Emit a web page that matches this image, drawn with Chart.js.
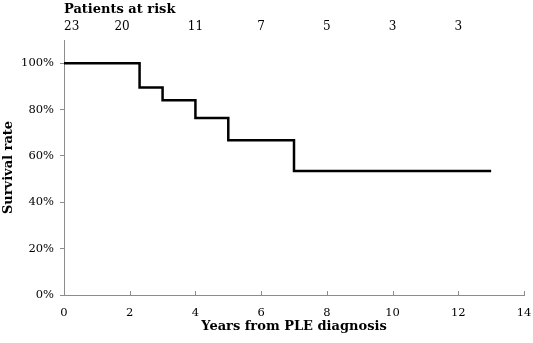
<!DOCTYPE html>
<html>
<head>
<meta charset="utf-8">
<script src="https://cdn.jsdelivr.net/npm/chart.js@4.4.1/dist/chart.umd.min.js"></script>
<style>
html,body{margin:0;padding:0;background:#fff;}
#wrap{position:relative;width:533px;height:343px;}
</style>
</head>
<body>
<div id="wrap"><canvas id="c" width="533" height="343"></canvas></div>
<script>
// Kaplan-Meier step points (years, survival fraction)
const years = [0, 2.3, 3.0, 4.0, 5.0, 7.0, 13.0];
const survival = [1.0, 0.895, 0.84, 0.764, 0.668, 0.535, 0.535];
// Patients at risk
const riskYears = [0, 2, 4, 6, 8, 10, 12];
const riskCounts = [23, 20, 11, 7, 5, 3, 3];
// Axis ticks
const xTicks = [0, 2, 4, 6, 8, 10, 12, 14];
const yTicks = [0, 0.2, 0.4, 0.6, 0.8, 1.0];

const SERIF = '"DejaVu Serif", "Liberation Serif", serif';
const AXIS = '#8c8c8c';

const extras = {
  id: 'extras',
  beforeDatasetsDraw(chart) {
    const ctx = chart.ctx, x = chart.scales.x, a = chart.chartArea;
    ctx.save();
    ctx.strokeStyle = AXIS;
    ctx.lineWidth = 1;
    xTicks.forEach(v => {
      const px = Math.round(x.getPixelForValue(v)) + 0.5;
      ctx.beginPath();
      ctx.moveTo(px, a.bottom);
      ctx.lineTo(px, a.bottom - 4);
      ctx.stroke();
    });
    ctx.restore();
  },
  afterDraw(chart) {
    const ctx = chart.ctx, x = chart.scales.x, a = chart.chartArea;
    ctx.save();
    ctx.fillStyle = '#000';
    // x title
    ctx.font = 'bold 13px ' + SERIF;
    ctx.textAlign = 'center';
    ctx.textBaseline = 'middle';
    ctx.fillText('Years from PLE diagnosis', (a.left + a.right) / 2, 327);
    // y title
    ctx.save();
    ctx.translate(9, (a.top + a.bottom) / 2);
    ctx.rotate(-Math.PI / 2);
    ctx.fillText('Survival rate', 0, 0);
    ctx.restore();
    // patients at risk
    ctx.textAlign = 'left';
    ctx.fillText('Patients at risk', a.left, 10);
    ctx.font = '12px ' + SERIF;
    riskYears.forEach((v, i) => {
      const px = x.getPixelForValue(v);
      ctx.textAlign = i === 0 ? 'left' : (i === 1 ? 'right' : 'center');
      ctx.fillText(String(riskCounts[i]), px, 27);
    });
    ctx.restore();
  }
};

new Chart(document.getElementById('c'), {
  type: 'line',
  data: {
    datasets: [{
      data: years.map((t, i) => ({x: t, y: survival[i]})),
      stepped: 'before',
      borderColor: '#000',
      borderWidth: 2.5,
      pointRadius: 0,
      fill: false
    }]
  },
  options: {
    responsive: false,
    animation: false,
    devicePixelRatio: 1,
    layout: {padding: {top: 40, right: 9, left: 0, bottom: 0}},
    plugins: {legend: {display: false}, tooltip: {enabled: false}, title: {display: false}},
    scales: {
      x: {
        type: 'linear', min: 0, max: 14,
        afterFit(s) { s.height = 48; s.paddingRight = 0; s.paddingLeft = 0; },
        afterBuildTicks(s) { s.ticks = xTicks.map(v => ({value: v})); },
        grid: {display: false},
        border: {display: true, color: AXIS, width: 1},
        ticks: {font: {family: SERIF, size: 11.5}, color: '#000', padding: 3, maxRotation: 0}
      },
      y: {
        type: 'linear', min: 0, max: 1.1,
        afterFit(s) { s.width = 64; s.paddingTop = 0; s.paddingBottom = 0; },
        afterBuildTicks(s) { s.ticks = yTicks.map(v => ({value: v})); },
        grid: {drawOnChartArea: false, tickLength: 4, color: AXIS},
        border: {display: true, color: AXIS, width: 1},
        ticks: {font: {family: SERIF, size: 11.5}, color: '#000', padding: 6,
          callback: v => Math.round(v * 100) + '%'}
      }
    }
  },
  plugins: [extras]
});
</script>
</body>
</html>
